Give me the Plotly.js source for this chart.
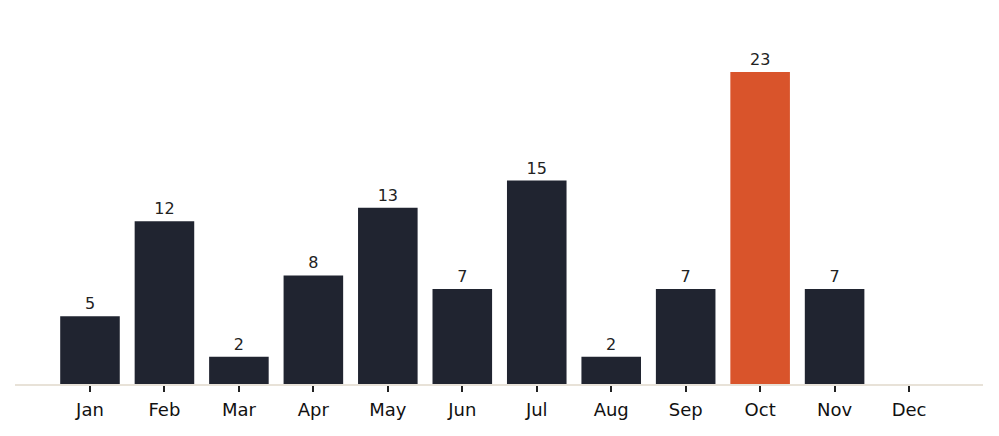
<!DOCTYPE html>
<html>
<head>
<meta charset="utf-8">
<script src="https://cdn.plot.ly/plotly-3.0.1.min.js"></script>
<style>html,body{margin:0;padding:0;background:#fff;}#chart{width:999px;height:436px;}</style>
</head>
<body>
<div id="chart"></div>
<script>
const months = ["Jan","Feb","Mar","Apr","May","Jun","Jul","Aug","Sep","Oct","Nov","Dec"];
const counts = [5,12,2,8,13,7,15,2,7,23,7,null];
const highlightMonth = "Oct";
const baseColor = "#202430";
const highlightColor = "#d9542b";

const colors = months.map(m => m === highlightMonth ? highlightColor : baseColor);
const labels = counts.map(v => v === null ? "" : String(v));

Plotly.newPlot("chart", [{
  type: "bar",
  x: months,
  y: counts,
  marker: {color: colors, line: {width: 0}},
  width: 0.8,
  text: labels,
  textposition: "outside",
  cliponaxis: false,
  textfont: {family: "DejaVu Sans", size: 16, color: "#222222"},
  hoverinfo: "skip"
}], {
  width: 999, height: 436,
  margin: {l: 15, r: 16, t: 10, b: 52},
  paper_bgcolor: "#ffffff",
  plot_bgcolor: "#ffffff",
  showlegend: false,
  bargap: 0.2,
  xaxis: {
    type: "category",
    range: [-1.007, 11.993],
    showline: true, linecolor: "#e8e2d8", linewidth: 2,
    ticks: "outside", ticklen: 6, tickwidth: 2, tickcolor: "#222222",
    ticklabelstandoff: 2,
    showgrid: false, zeroline: false,
    tickfont: {family: "DejaVu Sans", size: 18, color: "#111111"}
  },
  yaxis: {
    range: [0, 27.57],
    visible: false, showgrid: false, zeroline: false
  },
  font: {family: "DejaVu Sans"}
}, {staticPlot: true});
</script>
</body>
</html>
